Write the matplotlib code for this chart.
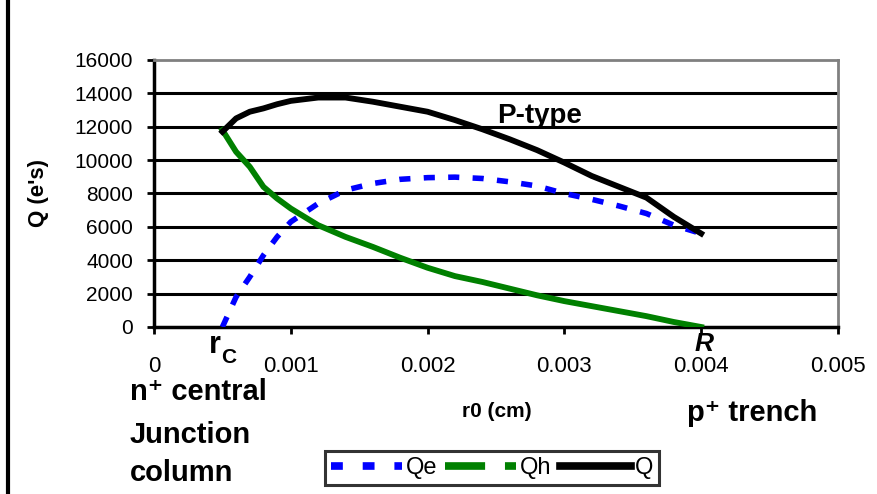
import numpy as np
import matplotlib.pyplot as plt
from matplotlib.lines import Line2D

plt.rcParams['font.family'] = ['Liberation Sans', 'DejaVu Sans']

# r0 (cm)
r0 = [0.0005, 0.0006, 0.0007, 0.0008, 0.0009, 0.0010, 0.0012, 0.0014, 0.0016, 0.0018,
      0.0020, 0.0022, 0.0024, 0.0026, 0.0028, 0.0030, 0.0032, 0.0034, 0.0036, 0.0038, 0.0040]
Qe = [0, 1800, 3000, 4300, 5400, 6300, 7400, 8200, 8600, 8850,
      8950, 8980, 8900, 8700, 8450, 8000, 7650, 7250, 6800, 6100, 5600]
Qh = [11800, 10500, 9600, 8400, 7700, 7100, 6100, 5400, 4800, 4150,
      3550, 3050, 2700, 2300, 1900, 1550, 1250, 950, 650, 300, 0]
Q = [11700, 12500, 12900, 13100, 13350, 13550, 13750, 13750, 13500, 13200,
     12900, 12400, 11850, 11250, 10600, 9850, 9050, 8400, 7750, 6600, 5600]

xticks = [0, 0.001, 0.002, 0.003, 0.004, 0.005]
xticklabels = ['0', '0.001', '0.002', '0.003', '0.004', '0.005']
yticks = np.arange(0, 16001, 2000)

fig = plt.figure(figsize=(8.77, 4.94), dpi=100)
ax = fig.add_axes([154/877, 1 - 327/494, (838-154)/877, (327-60)/494])

for y in yticks[1:-1]:
    ax.axhline(y, color='black', lw=2.2, zorder=1)

ax.plot(r0, Qe, color='#0000ff', lw=4, ls=(0, (2, 2.4)), dash_capstyle='butt', zorder=3)
ax.plot(r0, Qh, color='#008000', lw=4.2, zorder=3)
ax.plot(r0, Q, color='black', lw=4.2, zorder=4)

ax.set_xlim(0, 0.005)
ax.set_ylim(0, 16000)
ax.set_xticks(xticks)
ax.set_xticklabels(xticklabels)
ax.set_yticks(yticks)
ax.tick_params(axis='both', width=2, length=5, direction='out', color='black')
ax.tick_params(axis='y', labelsize=15, pad=10)
ax.tick_params(axis='x', labelsize=16, pad=16)

for s in ['left', 'bottom']:
    ax.spines[s].set_color('black')
    ax.spines[s].set_linewidth(2.5)
for s in ['top', 'right']:
    ax.spines[s].set_color('#808080')
    ax.spines[s].set_linewidth(2)

ax.set_ylabel("Q (e's)", fontsize=16, fontweight='bold')
ax.yaxis.set_label_coords(-(154 - 49)/684, 0.5)

ax.text(0.002507, 12220, 'P-type', fontsize=20, fontweight='bold', va='baseline')
ax.text(0.000447, -1080, 'r', fontsize=22, fontweight='bold', ha='center', va='center', clip_on=False)
ax.text(0.000548, -1850, 'C', fontsize=15, fontweight='bold', ha='center', va='center', clip_on=False)
ax.text(0.00402, -1020, 'R', fontsize=19, fontweight='bold', style='italic', ha='center', va='center', clip_on=False)

fig.text(497/877, 1 - 411/494, 'r0 (cm)', fontsize=15, fontweight='bold', ha='center', va='center')
fig.text(130/877, 1 - 392/494, 'n\u207a central', fontsize=21, fontweight='bold', va='center')
fig.text(130/877, 1 - 435/494, 'Junction', fontsize=21, fontweight='bold', va='center')
fig.text(130/877, 1 - 473/494, 'column', fontsize=21, fontweight='bold', va='center')
fig.text(687/877, 1 - 413/494, 'p\u207a trench', fontsize=21, fontweight='bold', va='center')

# left vertical rule
fig.add_artist(Line2D([7.5/877, 7.5/877], [0, 1], color='black', lw=3))

handles = [Line2D([], [], color='#0000ff', lw=5.5, ls=(0, (1.55, 2.6)), dash_capstyle='butt'),
           Line2D([], [], color='#008000', lw=5.5, ls=(0, (5.25, 2.6)), dash_capstyle='butt'),
           Line2D([], [], color='black', lw=5.5)]
leg = fig.legend(handles, ['Qe', 'Qh', 'Q'], loc='center', ncol=3,
                 bbox_to_anchor=(492/877, 1 - 468/494), fontsize=17,
                 frameon=True, fancybox=False, handlelength=3.0, handletextpad=0.17,
                 columnspacing=0.35, borderpad=0.25, borderaxespad=0)
leg.get_frame().set_edgecolor('black')
leg.get_frame().set_linewidth(2.2)

fig.savefig('out.png', dpi=100)
